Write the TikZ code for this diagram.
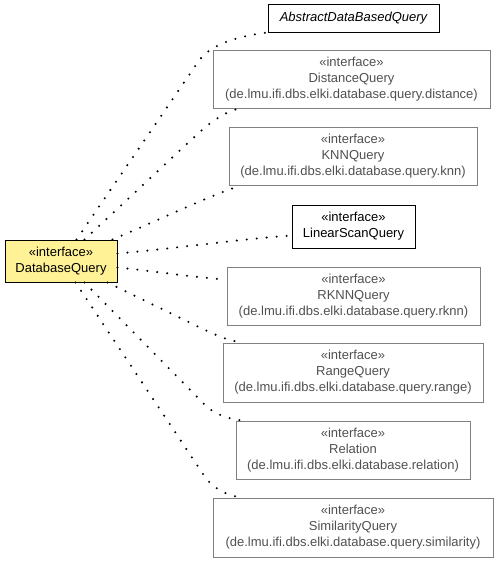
\documentclass[tikz,border=0pt]{standalone}
\usepackage{fontspec}
\setmainfont{Liberation Sans}
\usetikzlibrary{calc}
\definecolor{dbyellow}{RGB}{255,242,150}
\definecolor{grayline}{RGB}{128,128,128}
\definecolor{graytext}{RGB}{80,80,80}
\begin{document}
\begin{tikzpicture}[x=1pt,y=-1pt,
  box/.style={draw, rectangle, inner sep=0pt, align=center, font=\fontsize{13}{16}\selectfont},
  ext/.style={box, draw=grayline, text=graytext, line width=1pt},
  own/.style={box, draw=black, line width=1pt},
  dep/.style={line width=2.3pt, line cap=round, dash pattern=on 0pt off 10pt}]
\useasboundingbox (0,0) rectangle (499,563);

\node[own, fill=dbyellow, minimum width=112pt, minimum height=42pt] (db) at (61,261)
  {«interface»\\DatabaseQuery};

\node[own, minimum width=171pt, minimum height=28pt] (abs) at (353.5,18)
  {\itshape AbstractDataBasedQuery};
\node[ext, minimum width=277pt, minimum height=58pt] (dist) at (351.5,79)
  {«interface»\\DistanceQuery\\(de.lmu.ifi.dbs.elki.database.query.distance)};
\node[ext, minimum width=248pt, minimum height=58pt] (knn) at (353,156)
  {«interface»\\KNNQuery\\(de.lmu.ifi.dbs.elki.database.query.knn)};
\node[own, minimum width=123pt, minimum height=43pt] (lin) at (353.5,226.5)
  {«interface»\\LinearScanQuery};
\node[ext, minimum width=253pt, minimum height=58pt] (rknn) at (353.5,296)
  {«interface»\\RKNNQuery\\(de.lmu.ifi.dbs.elki.database.query.rknn)};
\node[ext, minimum width=260pt, minimum height=59pt] (range) at (353,372.5)
  {«interface»\\RangeQuery\\(de.lmu.ifi.dbs.elki.database.query.range)};
\node[ext, minimum width=234pt, minimum height=58pt] (rel) at (353,450)
  {«interface»\\Relation\\(de.lmu.ifi.dbs.elki.database.relation)};
\node[ext, minimum width=280pt, minimum height=59pt] (sim) at (353,527.5)
  {«interface»\\SimilarityQuery\\(de.lmu.ifi.dbs.elki.database.query.similarity)};

\draw[dep] ($(db.north west)+(72,0)$) -- (198,62) .. controls (206,50) and (224,38) .. (abs.south west);
\draw[dep] ($(db.north west)+(80,0)$) -- (190,141) .. controls (199,133) and (218,113) .. ($(dist.south west)+(27,0)$);
\draw[dep] ($(db.north east)+(-5,0)$) .. controls (150,224) and (215,193) .. ($(knn.south west)+(13,0)$);
\draw[dep] ($(db.north east)+(0,14)$) .. controls (170,249) and (250,238) .. ($(lin.south west)+(0,-13)$);
\draw[dep] ($(db.north east)+(0,28)$) .. controls (160,272) and (200,278) .. ($(rknn.north west)+(0,13)$);
\draw[dep] ($(db.south east)+(-10,0)$) -- (205,330) .. controls (214,334) and (228,341) .. ($(range.north west)+(20,0)$);
\draw[dep] ($(db.south west)+(80,0)$) -- (205,405) .. controls (213,413) and (227,419) .. ($(rel.north west)+(7,0)$);
\draw[dep] ($(db.south west)+(71,0)$) -- (205,477) .. controls (212,487) and (226,496) .. ($(sim.north west)+(30,0)$);
\end{tikzpicture}
\end{document}
